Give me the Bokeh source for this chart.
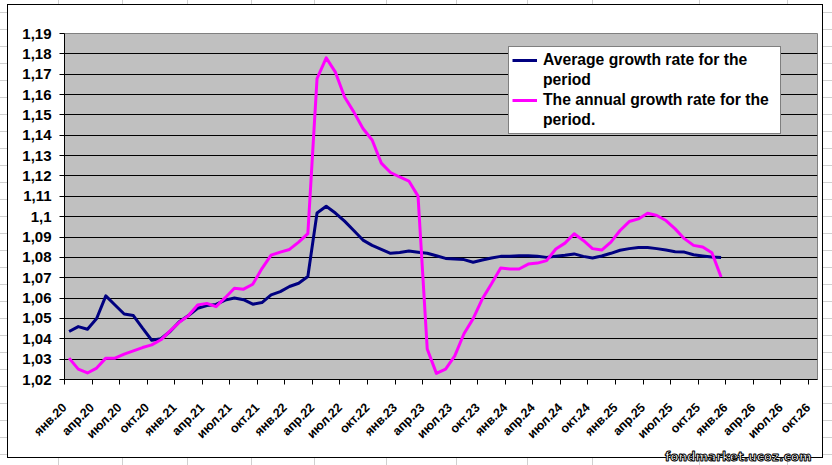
import math
from bokeh.plotting import figure
from bokeh.models import (FixedTicker, LinearAxis, Range1d, Legend, LegendItem, Grid, Title)
from bokeh.embed import file_html
from bokeh.resources import INLINE

# ---------------- data ----------------
months_ru = ["янв", "фев", "мар", "апр", "май", "июн",
             "июл", "авг", "сен", "окт", "ноя", "дек"]
start_year = 2020
n_categories = 82  # янв.20 .. окт.26
category_labels = [f"{months_ru[i % 12]}.{(start_year + i // 12) % 100:02d}"
                   for i in range(n_categories)]

avg_growth = [
    1.0436, 1.0460, 1.0447, 1.0500, 1.0611, 1.0566, 1.0522, 1.0514, 1.0452, 1.0393,
    1.0400, 1.0436, 1.0484, 1.0514, 1.0550, 1.0563, 1.0569, 1.0590, 1.0600, 1.0592,
    1.0570, 1.0578, 1.0616, 1.0632, 1.0657, 1.0673, 1.0706, 1.1018, 1.1051, 1.1018,
    1.0978, 1.0932, 1.0885, 1.0859, 1.0839, 1.0820, 1.0824, 1.0831, 1.0825, 1.0820,
    1.0808, 1.0795, 1.0792, 1.0789, 1.0776, 1.0787, 1.0797, 1.0805, 1.0805, 1.0808,
    1.0808, 1.0805, 1.0800, 1.0805, 1.0810, 1.0817, 1.0805, 1.0797, 1.0807, 1.0820,
    1.0835, 1.0843, 1.0848, 1.0848, 1.0843, 1.0836, 1.0828, 1.0826, 1.0813, 1.0807,
    1.0802, 1.0799,
]
annual_growth = [
    1.0305, 1.0251, 1.0232, 1.0256, 1.0305, 1.0305, 1.0325, 1.0341, 1.0357, 1.0370,
    1.0395, 1.0439, 1.0481, 1.0514, 1.0566, 1.0574, 1.0558, 1.0602, 1.0648, 1.0644,
    1.0668, 1.0745, 1.0811, 1.0826, 1.0839, 1.0875, 1.0917, 1.1678, 1.1780, 1.1710,
    1.1588, 1.1515, 1.1433, 1.1377, 1.1263, 1.1217, 1.1195, 1.1175, 1.1101, 1.0350,
    1.0230, 1.0251, 1.0316, 1.0425, 1.0499, 1.0596, 1.0670, 1.0748, 1.0743, 1.0743,
    1.0767, 1.0772, 1.0784, 1.0841, 1.0870, 1.0916, 1.0883, 1.0843, 1.0836, 1.0875,
    1.0932, 1.0976, 1.0989, 1.1017, 1.1006, 1.0981, 1.0940, 1.0892, 1.0859, 1.0851,
    1.0823, 1.0704,
]
series_names = [["Average growth rate for the", "period"],
                ["The annual growth rate for the", "period."]]

y_ticks = [1.02, 1.03, 1.04, 1.05, 1.06, 1.07, 1.08, 1.09, 1.10,
           1.11, 1.12, 1.13, 1.14, 1.15, 1.16, 1.17, 1.18, 1.19]
y_tick_labels = ["1,02", "1,03", "1,04", "1,05", "1,06", "1,07", "1,08", "1,09", "1,1",
                 "1,11", "1,12", "1,13", "1,14", "1,15", "1,16", "1,17", "1,18", "1,19"]
label_step = 3
watermark = "fondmarket.ucoz.com"

# ---------------- page decoration (chart box + spreadsheet grid behind it) ----------------
GRIDC = "#d0d0d0"
sheet_cols = [58, 122, 187, 251, 314, 386, 456, 527, 592, 699, 787]
layers = [
    "linear-gradient(#000,#000) 7px 4px / 816px 1px no-repeat",
    "linear-gradient(#000,#000) 7px 457px / 816px 1px no-repeat",
    "linear-gradient(#000,#000) 7px 4px / 1px 454px no-repeat",
    "linear-gradient(#000,#000) 822px 4px / 1px 454px no-repeat",
    "linear-gradient(#fff,#fff) 7px 4px / 816px 454px no-repeat",
]
layers += [f"linear-gradient({GRIDC},{GRIDC}) {x}px 0px / 1px 100% no-repeat"
           for x in sheet_cols]
layers.append(f"repeating-linear-gradient(to bottom, transparent 0px, transparent 12px, "
              f"{GRIDC} 12px, {GRIDC} 13px, transparent 13px, transparent 17px) "
              f"0px 0px / 100% 100% #ffffff")

# ---------------- figure ----------------
FONT = "Liberation Sans"
p = figure(width=832, height=465, output_backend="svg", toolbar_location=None,
           x_range=Range1d(-0.5, n_categories - 0.5), y_range=Range1d(1.02, 1.19),
           x_axis_location=None, y_axis_location=None,
           min_border_left=64, min_border_right=15, min_border_top=33,
           min_border_bottom=84)
p.styles = {"background": ", ".join(layers)}
p.background_fill_color = "#C0C0C0"
p.border_fill_alpha = 0
p.outline_line_color = "#808080"
p.outline_line_width = 1
for g in list(p.grid):
    g.visible = False

p.add_layout(Grid(dimension=1, ticker=FixedTicker(ticks=y_ticks),
                  grid_line_color="black", grid_line_width=1))

yaxis = LinearAxis(ticker=FixedTicker(ticks=y_ticks),
                   major_label_overrides=dict(zip(y_ticks, y_tick_labels)),
                   major_tick_out=5, major_tick_in=0, minor_tick_out=0, minor_tick_in=0,
                   axis_line_color="black", major_tick_line_color="black",
                   major_label_text_font=FONT, major_label_text_font_style="bold",
                   major_label_text_font_size="15px", major_label_text_color="black",
                   major_label_standoff=8)
p.add_layout(yaxis, "left")

tick_pos = [k - 0.5 for k in range(0, n_categories, label_step)]
xaxis = LinearAxis(ticker=FixedTicker(ticks=tick_pos),
                   major_label_overrides={k - 0.5: category_labels[k]
                                          for k in range(0, n_categories, label_step)},
                   major_tick_out=5, major_tick_in=0,
                   minor_tick_out=0, minor_tick_in=0,
                   axis_line_color="black", major_tick_line_color="black",
                   major_label_orientation=math.pi / 4,
                   major_label_text_font=FONT, major_label_text_font_style="bold",
                   major_label_text_font_size="12.5px", major_label_text_color="black",
                   major_label_standoff=21)
p.add_layout(xaxis, "below")

x_idx = list(range(len(avg_growth)))
r1 = p.line(x_idx, avg_growth, line_color="#000080", line_width=3, line_join="round")
r2 = p.line(x_idx, annual_growth, line_color="#FF00FF", line_width=3, line_join="round")

legend = Legend(items=[LegendItem(label=series_names[0][0], renderers=[r1]),
                       LegendItem(label=series_names[0][1], renderers=[]),
                       LegendItem(label=series_names[1][0], renderers=[r2]),
                       LegendItem(label=series_names[1][1], renderers=[])],
                location=(444, 245), orientation="vertical",
                border_line_color="black", border_line_width=1,
                background_fill_color="white", background_fill_alpha=1,
                label_text_font=FONT, label_text_font_style="bold",
                label_text_font_size="15.7px", label_text_color="black",
                glyph_width=25, glyph_height=20, label_height=20, label_width=234,
                label_standoff=6, padding=3, spacing=0, margin=0)
p.add_layout(legend, "center")

p.add_layout(Title(text=watermark, align="right", offset=6, standoff=0,
                   vertical_align="top",
                   text_font="DejaVu Sans", text_font_style="bold",
                   text_font_size="12px", text_color="white",
                   text_outline_color="black"), "below")

open("out.html", "w").write(file_html(p, INLINE))
